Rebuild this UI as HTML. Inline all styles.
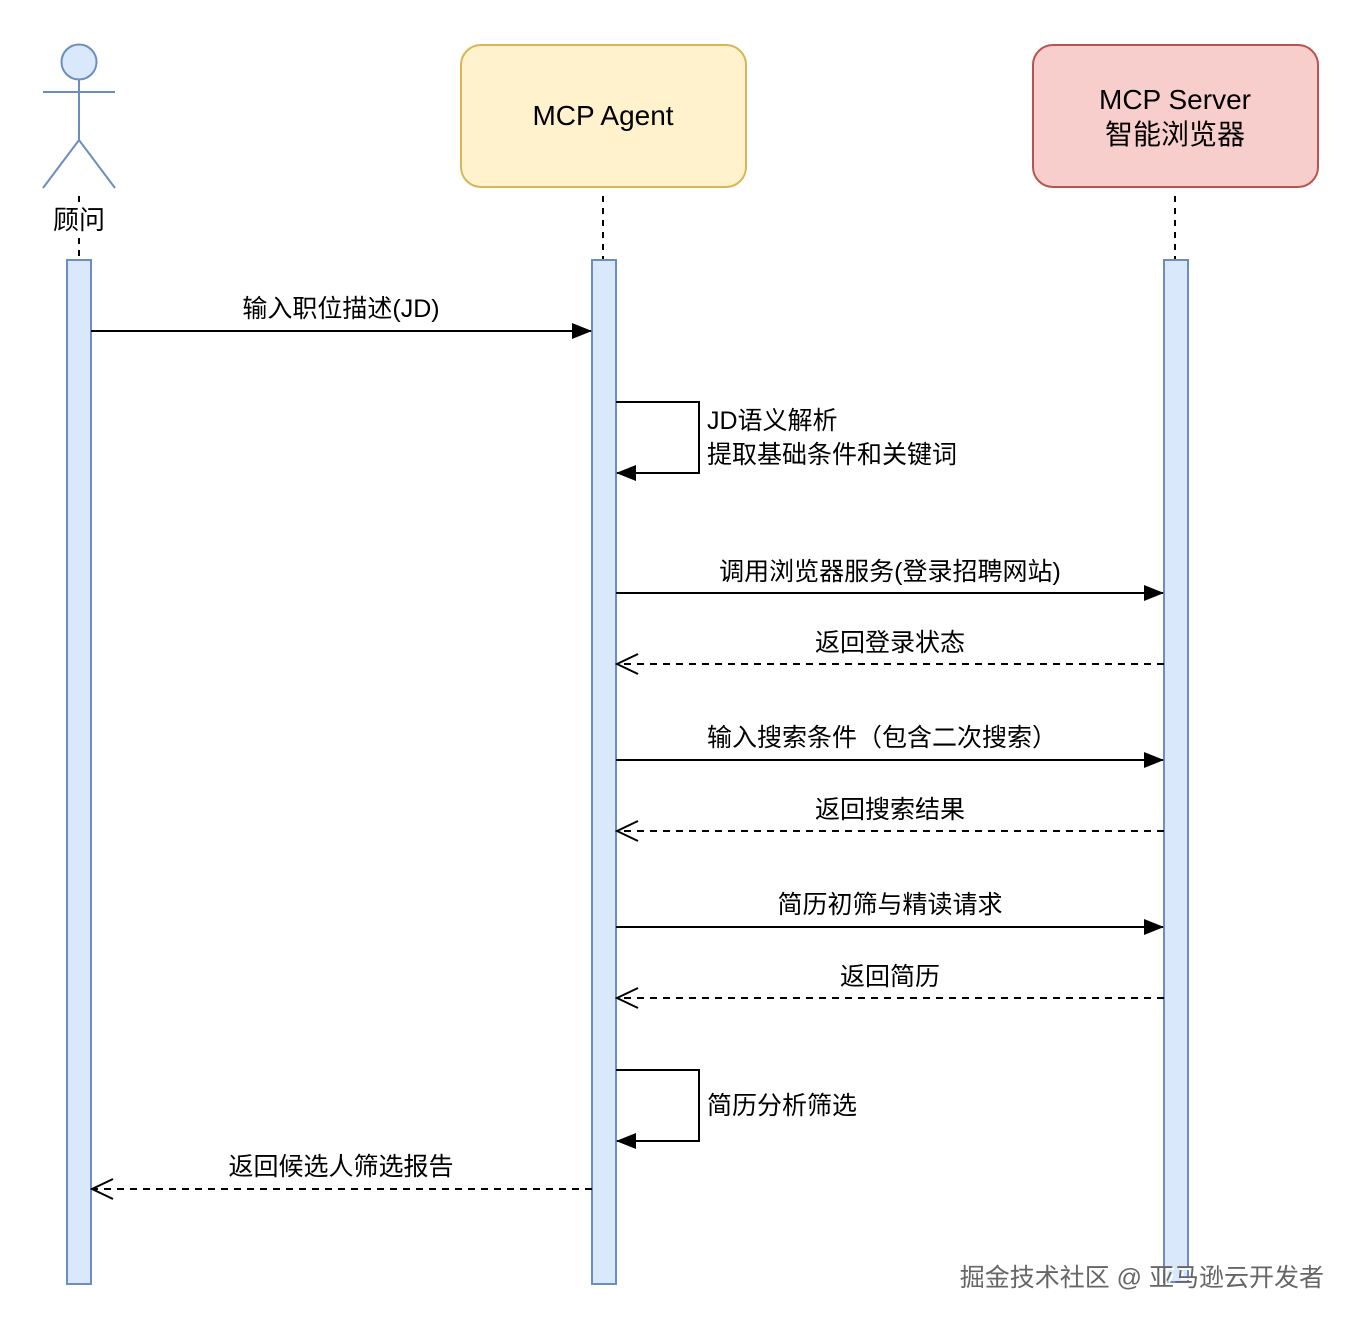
<!DOCTYPE html>
<html><head><meta charset="utf-8"><style>
html,body{margin:0;padding:0;background:#fff;}
svg text{font-family:"Liberation Sans","Noto Sans CJK SC",sans-serif;}
</style></head><body>
<svg width="1358" height="1326" viewBox="0 0 1358 1326" xmlns="http://www.w3.org/2000/svg">
<defs>
<marker id="fa" markerWidth="20" markerHeight="16" refX="19" refY="8" orient="auto" markerUnits="userSpaceOnUse">
<path d="M0,0 L20,8 L0,16 Z" fill="#000"/></marker>
<marker id="oa" markerWidth="24" markerHeight="22" refX="22" refY="11" orient="auto" markerUnits="userSpaceOnUse">
<path d="M1,1 L22,11 L1,21" fill="none" stroke="#000" stroke-width="2"/></marker>
</defs>
<circle cx="79" cy="62" r="17.5" fill="#dae8fc" stroke="#6c8ebf" stroke-width="2"/>
<line x1="79" y1="80" x2="79" y2="140" stroke="#6c8ebf" stroke-width="2"/>
<line x1="43" y1="92" x2="115" y2="92" stroke="#6c8ebf" stroke-width="2"/>
<polyline points="43,188 79,140 115,188" fill="none" stroke="#6c8ebf" stroke-width="2"/>
<text x="79" y="229" font-size="26" text-anchor="middle">顾问</text>
<rect x="461" y="45" width="285" height="142" rx="20" fill="#fff2cc" stroke="#d6b656" stroke-width="2"/>
<text x="603" y="125" font-size="28" text-anchor="middle">MCP Agent</text>
<rect x="1033" y="45" width="285" height="142" rx="20" fill="#f8cecc" stroke="#b85450" stroke-width="2"/>
<text x="1175" y="109" font-size="28" text-anchor="middle">MCP Server</text>
<text x="1175" y="144" font-size="28" text-anchor="middle">智能浏览器</text>
<g stroke="#000" stroke-width="2" stroke-dasharray="6,6">
<line x1="79" y1="196" x2="79" y2="205"/><line x1="79" y1="238" x2="79" y2="260"/>
<line x1="603" y1="196" x2="603" y2="260"/>
<line x1="1175" y1="196" x2="1175" y2="260"/>
</g>
<rect x="67" y="260" width="24" height="1024" fill="#dae8fc" stroke="#6c8ebf" stroke-width="2"/>
<rect x="592" y="260" width="24" height="1024" fill="#dae8fc" stroke="#6c8ebf" stroke-width="2"/>
<rect x="1164" y="260" width="24" height="1022" fill="#dae8fc" stroke="#6c8ebf" stroke-width="2"/>
<g stroke="#000" stroke-width="2" fill="none">
<line x1="91" y1="331" x2="591" y2="331" marker-end="url(#fa)"/>
<polyline points="616,402 699,402 699,473 617,473" marker-end="url(#fa)"/>
<line x1="616" y1="593" x2="1163" y2="593" marker-end="url(#fa)"/>
<line x1="1164" y1="664" x2="617" y2="664" stroke-dasharray="7,6" marker-end="url(#oa)"/>
<line x1="616" y1="760" x2="1163" y2="760" marker-end="url(#fa)"/>
<line x1="1164" y1="831" x2="617" y2="831" stroke-dasharray="7,6" marker-end="url(#oa)"/>
<line x1="616" y1="927" x2="1163" y2="927" marker-end="url(#fa)"/>
<line x1="1164" y1="998" x2="617" y2="998" stroke-dasharray="7,6" marker-end="url(#oa)"/>
<polyline points="616,1070 699,1070 699,1141 617,1141" marker-end="url(#fa)"/>
<line x1="592" y1="1189" x2="92" y2="1189" stroke-dasharray="7,6" marker-end="url(#oa)"/>
</g>
<g font-size="25" fill="#000">
<text x="341" y="317" text-anchor="middle">输入职位描述(JD)</text>
<text x="707" y="429">JD语义解析</text>
<text x="707" y="463">提取基础条件和关键词</text>
<text x="890" y="580" text-anchor="middle">调用浏览器服务(登录招聘网站)</text>
<text x="890" y="651" text-anchor="middle">返回登录状态</text>
<text x="882" y="746" text-anchor="middle">输入搜索条件（包含二次搜索）</text>
<text x="890" y="818" text-anchor="middle">返回搜索结果</text>
<text x="890" y="913" text-anchor="middle">简历初筛与精读请求</text>
<text x="890" y="985" text-anchor="middle">返回简历</text>
<text x="707" y="1114">简历分析筛选</text>
<text x="341" y="1175" text-anchor="middle">返回候选人筛选报告</text>
</g>
<text x="1326" y="1288" font-size="25" text-anchor="end" fill="#fff">掘金技术社区 @ 亚马逊云开发者</text>
<text x="1324" y="1286" font-size="25" text-anchor="end" fill="#666">掘金技术社区 @ 亚马逊云开发者</text>
</svg>
</body></html>
